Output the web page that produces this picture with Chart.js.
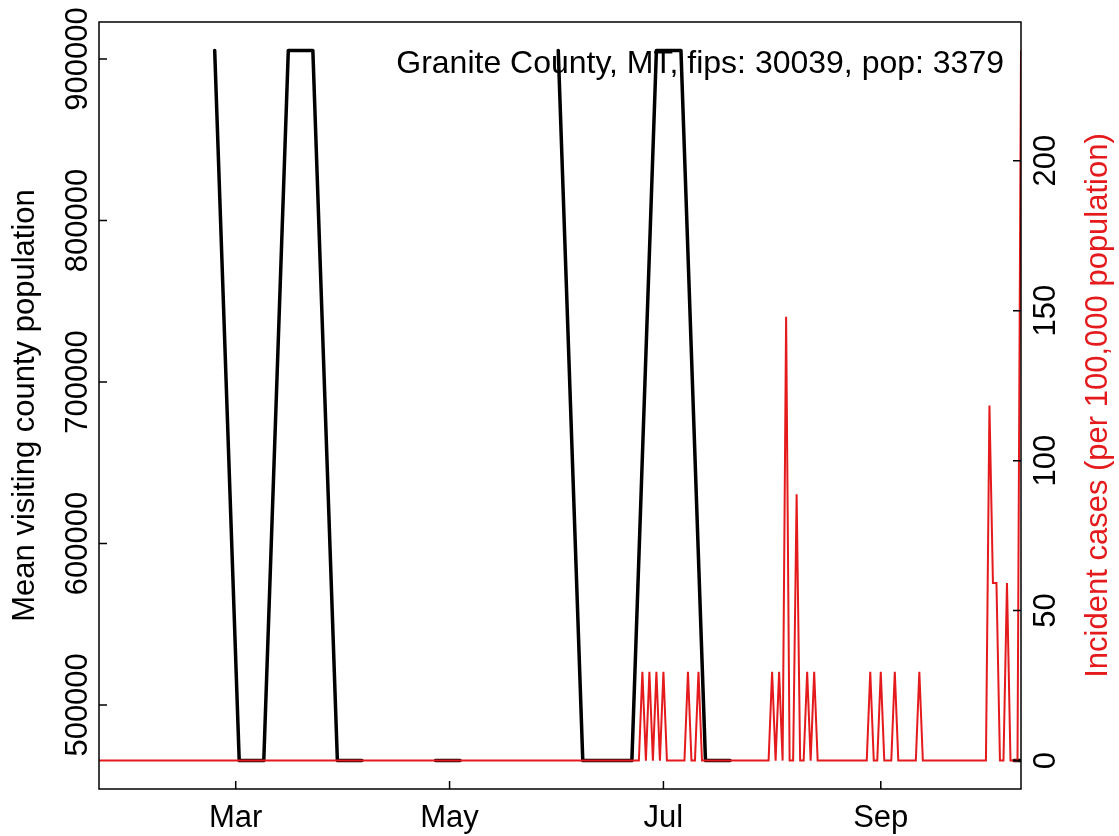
<!DOCTYPE html>
<html>
<head>
<meta charset="utf-8">
<script src="https://cdn.jsdelivr.net/npm/chart.js@4"></script>
<style>
  html, body { margin: 0; padding: 0; background: #fff; }
</style>
</head>
<body>
<canvas id="county-chart" width="1119" height="836"></canvas>
<script>
// days are counted from 2020-01-01 (day 0)
var monthLabels = ["Mar", "May", "Jul", "Sep"];
var monthDays = [60, 121, 182, 244];
var popTicks = [500000, 600000, 700000, 800000, 900000];
var rateTicks = [0, 50, 100, 150, 200];

// weekly mean visiting county population (null = no data)
var visitDays = [54, 61, 68, 75, 82, 89, 96, 103, 110, 117, 124, 131, 138, 145,
                 152, 159, 166, 173, 180, 187, 194, 201, 208, 282, 289];
var visitPop = [905300, 465500, 465500, 905300, 905300, 465500, 465500, null, null,
                465500, 465500, null, null, null, 905300, 465500, 465500, 465500,
                905300, 905300, 465500, 465500, null, 465500, 465500];

// daily incident cases per 100,000, starting 2020-01-22 (day 21)
var caseStartDay = 21;
var caseRates = [
  0, 0, 0, 0, 0, 0, 0, 0, 0, 0,
  0, 0, 0, 0, 0, 0, 0, 0, 0, 0,
  0, 0, 0, 0, 0, 0, 0, 0, 0, 0,
  0, 0, 0, 0, 0, 0, 0, 0, 0, 0,
  0, 0, 0, 0, 0, 0, 0, 0, 0, 0,
  0, 0, 0, 0, 0, 0, 0, 0, 0, 0,
  0, 0, 0, 0, 0, 0, 0, 0, 0, 0,
  0, 0, 0, 0, 0, 0, 0, 0, 0, 0,
  0, 0, 0, 0, 0, 0, 0, 0, 0, 0,
  0, 0, 0, 0, 0, 0, 0, 0, 0, 0,
  0, 0, 0, 0, 0, 0, 0, 0, 0, 0,
  0, 0, 0, 0, 0, 0, 0, 0, 0, 0,
  0, 0, 0, 0, 0, 0, 0, 0, 0, 0,
  0, 0, 0, 0, 0, 0, 0, 0, 0, 0,
  0, 0, 0, 0, 0, 0, 0, 0, 0, 0,
  0, 0, 0, 0, 0, 29.59, 0, 29.59, 0, 29.59,
  0, 29.59, 0, 0, 0, 0, 0, 0, 29.59, 0,
  0, 29.59, 0, 0, 0, 0, 0, 0, 0, 0,
  0, 0, 0, 0, 0, 0, 0, 0, 0, 0,
  0, 0, 29.59, 0, 29.59, 0, 147.97, 0, 0, 88.78,
  0, 0, 29.59, 0, 29.59, 0, 0, 0, 0, 0,
  0, 0, 0, 0, 0, 0, 0, 0, 0, 0,
  29.59, 0, 0, 29.59, 0, 0, 0, 29.59, 0, 0,
  0, 0, 0, 0, 29.59, 0, 0, 0, 0, 0,
  0, 0, 0, 0, 0, 0, 0, 0, 0, 0,
  0, 0, 0, 0, 118.38, 59.19, 59.19, 0, 0, 59.19,
  0, 0, 0, 236.76
];

var titleText = "Granite County, MT, fips: 30039, pop: 3379";
var red = "#e41a1c";
var font = '31px "Liberation Sans", Arial, sans-serif';
var titleFont = '32px "Liberation Sans", Arial, sans-serif';

var visitPoints = [];
for (var i = 0; i < visitDays.length; i++) {
    visitPoints.push({ x: visitDays[i], y: visitPop[i] });
}
var casePoints = [];
for (var j = 0; j < caseRates.length; j++) {
    casePoints.push({ x: caseStartDay + j, y: caseRates[j] });
}

// R base-graphics style frame, inward ticks and rotated labels
var baseAxes = {
    id: "baseAxes",
    afterDraw: function (chart) {
        var ctx = chart.ctx, a = chart.chartArea, s = chart.scales;
        ctx.save();
        ctx.strokeStyle = "#000";
        ctx.lineWidth = 1.5;
        ctx.strokeRect(a.left, a.top, a.right - a.left, a.bottom - a.top);
        ctx.beginPath();
        monthDays.forEach(function (d) {
            var px = s.x.getPixelForValue(d);
            ctx.moveTo(px, a.bottom); ctx.lineTo(px, a.bottom - 8);
        });
        popTicks.forEach(function (v) {
            var py = s.y.getPixelForValue(v);
            ctx.moveTo(a.left, py); ctx.lineTo(a.left + 8, py);
        });
        rateTicks.forEach(function (v) {
            var py = s.y1.getPixelForValue(v);
            ctx.moveTo(a.right, py); ctx.lineTo(a.right - 8, py);
        });
        ctx.stroke();

        ctx.font = font;
        ctx.fillStyle = "#000";
        ctx.textAlign = "center";
        ctx.textBaseline = "alphabetic";
        monthLabels.forEach(function (m, k) {
            ctx.fillText(m, s.x.getPixelForValue(monthDays[k]), a.bottom + 38);
        });
        function upText(txt, x, y) {
            ctx.save();
            ctx.translate(x, y);
            ctx.rotate(-Math.PI / 2);
            ctx.fillText(txt, 0, 0);
            ctx.restore();
        }
        popTicks.forEach(function (v) {
            upText(String(v), a.left - 12, s.y.getPixelForValue(v));
        });
        rateTicks.forEach(function (v) {
            upText(String(v), a.right + 34, s.y1.getPixelForValue(v));
        });
        var mid = (a.top + a.bottom) / 2;
        upText("Mean visiting county population", 34, mid);
        ctx.fillStyle = red;
        upText("Incident cases (per 100,000 population)", a.right + 86, mid);

        ctx.fillStyle = "#000";
        ctx.textAlign = "right";
        ctx.font = titleFont;
        ctx.fillText(titleText, a.right - 17, a.top + 51);
        ctx.restore();
    }
};

var ctx = document.getElementById("county-chart");
var countyChart = new Chart(ctx, {
    type: "line",
    data: {
        datasets: [{
            label: "Mean visiting county population",
            data: visitPoints,
            yAxisID: "y",
            borderColor: "#000",
            borderWidth: 3.5,
            borderCapStyle: "round",
            borderJoinStyle: "round",
            pointRadius: 0,
            spanGaps: false,
            tension: 0,
            clip: 0,
            order: 2
        }, {
            label: "Incident cases",
            data: casePoints,
            yAxisID: "y1",
            borderColor: red,
            borderWidth: 2,
            borderJoinStyle: "miter",
            pointRadius: 0,
            tension: 0,
            clip: 0,
            order: 1
        }]
    },
    options: {
        responsive: false,
        animation: false,
        layout: { padding: { top: 22, left: 0, right: 0, bottom: 0 } },
        plugins: { legend: { display: false }, tooltip: { enabled: false } },
        scales: {
            x: {
                type: "linear",
                min: 21,
                max: 284,
                grid: { display: false, drawTicks: false },
                border: { display: false },
                ticks: { display: false },
                afterFit: function (scale) { scale.height = 47; }
            },
            y: {
                position: "left",
                min: 447908,
                max: 922892,
                grid: { display: false, drawTicks: false },
                border: { display: false },
                ticks: { display: false },
                afterFit: function (scale) { scale.width = 99; }
            },
            y1: {
                position: "right",
                min: -9.47,
                max: 246.23,
                grid: { display: false, drawTicks: false },
                border: { display: false },
                ticks: { display: false },
                afterFit: function (scale) { scale.width = 98; }
            }
        }
    },
    plugins: [baseAxes]
});
</script>
</body>
</html>
